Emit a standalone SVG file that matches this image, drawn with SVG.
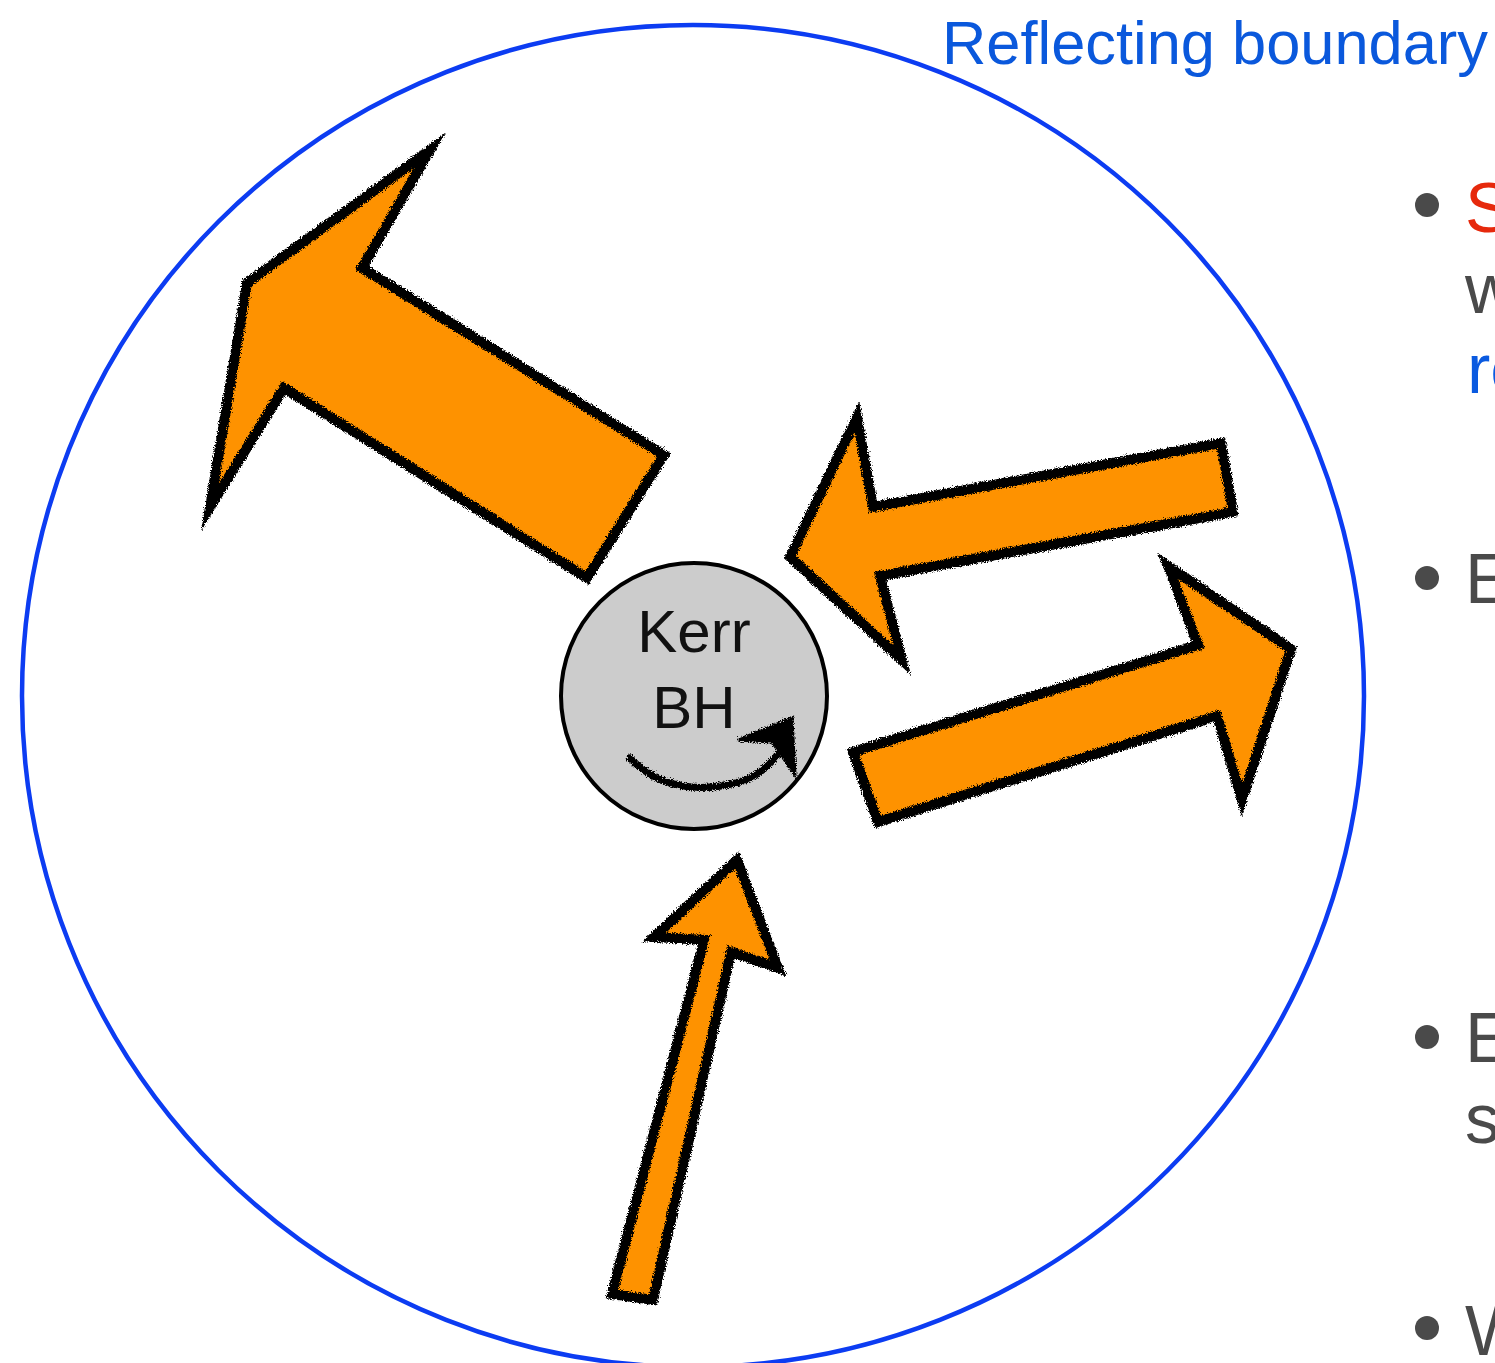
<svg xmlns="http://www.w3.org/2000/svg" width="1495" height="1363" viewBox="0 0 1495 1363">
<style>
.arrow{fill:#fe9200;stroke:#000;stroke-width:10;stroke-linejoin:miter;stroke-miterlimit:10;filter:url(#rough)}
.edge{fill:none;stroke:#000;stroke-width:4;stroke-linejoin:miter;stroke-miterlimit:10;filter:url(#rough2)}
.bt{font-family:"Liberation Sans",Arial,sans-serif;font-size:70px;fill:#4a4a4a}
.dot{fill:#4a4a4a}
.kt{font-family:"Liberation Sans",Arial,sans-serif;font-size:60px;fill:#111;text-anchor:middle}
</style>
<defs>
<filter id="rough" x="-10%" y="-10%" width="120%" height="120%">
<feTurbulence type="fractalNoise" baseFrequency="0.8" numOctaves="2" seed="4" result="n"/>
<feDisplacementMap in="SourceGraphic" in2="n" scale="6" xChannelSelector="R" yChannelSelector="G"/>
</filter>
<filter id="rough2" x="-10%" y="-10%" width="120%" height="120%">
<feTurbulence type="fractalNoise" baseFrequency="1.1" numOctaves="2" seed="9" result="n"/>
<feDisplacementMap in="SourceGraphic" in2="n" scale="9" xChannelSelector="G" yChannelSelector="R"/>
</filter>
</defs>
<rect width="1495" height="1363" fill="#fff"/>
<g id="boundary">
<circle cx="693" cy="696" r="671" fill="none" stroke="#0c3cf2" stroke-width="4.5"/>
</g>
<g id="boundary-label">
<text x="942" y="64" font-family="'Liberation Sans',Arial,sans-serif" font-size="62" fill="#0a58dc" textLength="546" lengthAdjust="spacingAndGlyphs">Reflecting boundary</text>
</g>
<g id="arrows">
<g id="arrow-out-big">
<polygon class="arrow" points="430,150 362,268 664,455 587,578 284,388 210,507 247,283"/>
<polygon class="edge" points="430,150 362,268 664,455 587,578 284,388 210,507 247,283"/>
</g>
<g id="arrow-in">
<polygon class="arrow" points="857,417 873,507 1221,443 1233,512 880,576 902,660 790,557"/>
<polygon class="edge" points="857,417 873,507 1221,443 1233,512 880,576 902,660 790,557"/>
</g>
<g id="arrow-out">
<polygon class="arrow" points="853,752 1198,645 1168,566 1291,649 1242,800 1217,716 878,822"/>
<polygon class="edge" points="853,752 1198,645 1168,566 1291,649 1242,800 1217,716 878,822"/>
</g>
<g id="arrow-up">
<polygon class="arrow" points="737,860 778,968 731,952 653,1300 612,1294 704,940 654,937"/>
<polygon class="edge" points="737,860 778,968 731,952 653,1300 612,1294 704,940 654,937"/>
</g>
</g>
<g id="kerr-bh">
<circle cx="694" cy="696" r="133" fill="#cccccc" stroke="#000" stroke-width="4"/>
<text class="kt" x="694" y="652">Kerr</text>
<text class="kt" x="694" y="728">BH</text>
<g filter="url(#rough)">
<path d="M630,758 Q670,800 740,782 Q770,772 785,742" fill="none" stroke="#000" stroke-width="7" stroke-linecap="round"/>
<polygon points="792,718 738,740 772,742 795,775" fill="#000" stroke="#000" stroke-width="3"/>
</g>
</g>
<g id="bullets">
<circle class="dot" cx="1427" cy="205" r="12"/>
<text x="1465" y="232" font-family="'Liberation Sans',Arial,sans-serif" font-size="70" fill="#e6290c">S</text>
<text class="bt" x="1465" y="313">w</text>
<text x="1467" y="393" font-family="'Liberation Sans',Arial,sans-serif" font-size="70" fill="#0a5ae0">re</text>
<circle class="dot" cx="1427" cy="578" r="12"/>
<text class="bt" x="1465" y="603">E</text>
<circle class="dot" cx="1427" cy="1037" r="12"/>
<text class="bt" x="1465" y="1062">E</text>
<text class="bt" x="1465" y="1143">s</text>
<circle class="dot" cx="1427" cy="1328" r="12"/>
<text class="bt" x="1465" y="1355">W</text>
</g>
</svg>
